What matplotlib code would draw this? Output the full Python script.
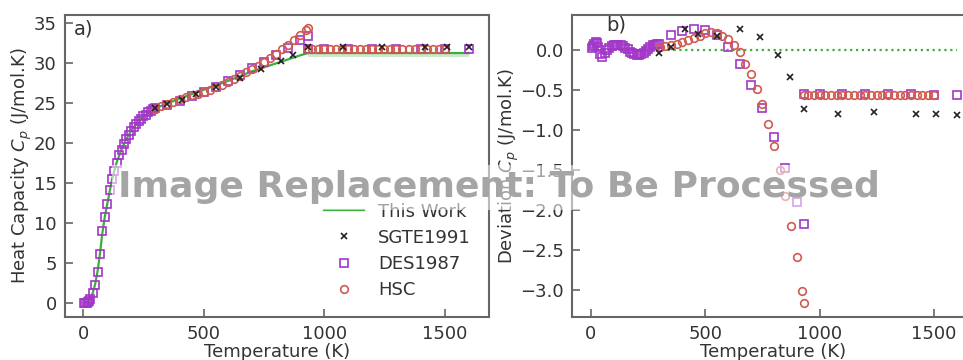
import matplotlib
matplotlib.use('Agg')
import matplotlib.pyplot as plt

# --- panel a) heat capacity ---
line_T = [10, 20, 30, 40, 50, 60, 70, 80, 90, 100, 120, 140, 160, 180, 200, 225, 250, 275,
          300, 400, 500, 600, 700, 800, 900, 933, 1600]
line_cp = [0.05, 0.2, 0.6, 1.3, 2.4, 4.0, 6.2, 8.8, 10.8, 12.4, 15.5, 17.7, 19.3, 20.6, 21.6,
           22.6, 23.4, 23.9, 24.4, 25.6, 26.7, 27.8, 29.0, 30.0, 31.0, 31.3, 31.3]
band_T = [933, 1600]
band_lo = [30.75, 30.75]
band_hi = [31.45, 31.45]

sgte_T = [298, 350, 410, 470, 550, 650, 740, 820, 870, 933, 1080, 1240, 1420, 1510, 1600]
sgte_cp = [24.44, 24.96, 25.43, 26.15, 27.02, 28.14, 29.24, 30.26, 31.04, 32.04,
           32.1, 32.1, 32.1, 32.1, 32.1]
sgte_dev = [-0.04, 0.04, 0.27, 0.2, 0.18, 0.26, 0.16, -0.06, -0.34, -0.74,
            -0.8, -0.78, -0.8, -0.8, -0.81]

des_T = [5, 10, 15, 20, 25, 30, 40, 50, 60, 70, 80, 90, 100, 110, 120, 130, 140, 150, 160,
         170, 180, 190, 200, 210, 220, 230, 240, 250, 260, 270, 280, 290, 298,
         350, 400, 450, 500, 550, 600, 650, 700, 750, 800, 850, 900, 933,
         933, 1000, 1100, 1200, 1300, 1400, 1500, 1600]
des_cp = [0.0, 0.05, 0.1, 0.2, 0.35, 0.6, 1.3, 2.3, 3.9, 6.2, 9.0, 10.8, 12.4, 14.2, 15.6,
          16.6, 17.6, 18.5, 19.2, 19.9, 20.6, 21.1, 21.6, 22.0, 22.4, 22.8, 23.1, 23.4, 23.6,
          23.9, 24.1, 24.3, 24.4,
          24.81, 25.36, 25.89, 26.45, 27.01, 27.76, 28.57, 29.43, 30.23, 31.09, 31.98, 32.9, 33.47,
          31.85, 31.85, 31.85, 31.85, 31.85, 31.85, 31.85, 31.85]
des_dev = [0.03, 0.05, 0.08, 0.10, 0.09, 0.04, -0.05, -0.08, -0.04, 0.0, 0.03, 0.05, 0.06,
           0.07, 0.07, 0.06, 0.05, 0.03, 0.01, -0.02, -0.04, -0.05, -0.06, -0.06, -0.05, -0.03,
           -0.01, 0.02, 0.04, 0.06, 0.07, 0.08, 0.08,
           0.19, 0.24, 0.26, 0.25, 0.19, 0.04, -0.17, -0.43, -0.73, -1.09, -1.48, -1.9, -2.17,
           -0.55, -0.55, -0.55, -0.55, -0.55, -0.55, -0.56, -0.56]

hsc_T = [300, 325, 350, 375, 400, 425, 450, 475, 500, 525, 550, 575, 600, 625, 650, 675,
         700, 725, 750, 775, 800, 825, 850, 875, 900, 925, 933,
         933, 950, 975, 1000, 1025, 1050, 1075, 1100, 1125, 1150, 1175, 1200, 1225, 1250,
         1275, 1300, 1325, 1350, 1375, 1400, 1425, 1450, 1475, 1500]
hsc_cp = [24.36, 24.65, 24.94, 25.22, 25.5, 25.77, 26.0, 26.22, 26.48, 26.72, 26.99, 27.32,
          27.66, 28.03, 28.42, 28.87, 29.3, 29.73, 30.18, 30.68, 31.2, 31.75, 32.33, 32.95,
          33.59, 34.23, 34.47,
          31.85, 31.85, 31.85, 31.85, 31.85, 31.85, 31.85, 31.85, 31.85, 31.85, 31.85, 31.85,
          31.85, 31.85, 31.85, 31.85, 31.85, 31.85, 31.85, 31.85, 31.85, 31.85, 31.85, 31.85]
hsc_dev = [0.04, 0.05, 0.06, 0.08, 0.10, 0.13, 0.15, 0.18, 0.22, 0.23, 0.21, 0.18, 0.14,
           0.07, -0.02, -0.17, -0.30, -0.48, -0.68, -0.93, -1.2, -1.5, -1.83, -2.2, -2.59,
           -3.01, -3.17,
           -0.56, -0.56, -0.56, -0.56, -0.56, -0.56, -0.56, -0.56, -0.56, -0.56, -0.56, -0.56,
           -0.56, -0.56, -0.56, -0.56, -0.56, -0.56, -0.56, -0.56, -0.56, -0.56, -0.56, -0.56]

zero_T = [0, 1600]
zero_dev = [0, 0]

GREEN = '#3cae3a'
PURPLE = '#a236c8'
RED = '#cf5a50'
TXT = '#333333'
SPINE = '#666666'

plt.rcParams['font.size'] = 13
plt.rcParams['axes.unicode_minus'] = True

fig = plt.figure(figsize=(9.63, 3.6), dpi=100)
ax1 = fig.add_axes([0.0675, 0.1194, 0.4403, 0.8389])
ax2 = fig.add_axes([0.594, 0.1194, 0.4185, 0.8389])

ax1.fill_between(band_T, band_lo, band_hi, color=GREEN, alpha=0.25, lw=0)
ax1.plot(line_T, line_cp, color=GREEN, lw=1.6, label='This Work', zorder=2)
ax1.plot(sgte_T, sgte_cp, 'x', color='#222222', ms=5, mew=1.2, label='SGTE1991', zorder=4)
ax1.plot(des_T, des_cp, 's', mfc='none', mec=PURPLE, ms=5.5, mew=1.2, label='DES1987', zorder=3)
ax1.plot(hsc_T, hsc_cp, 'o', mfc='none', mec=RED, ms=5.5, mew=1.2, label='HSC', zorder=3)

ax2.plot(zero_T, zero_dev, ':', color=GREEN, lw=1.6, zorder=2)
ax2.plot(sgte_T, sgte_dev, 'x', color='#222222', ms=5, mew=1.2, zorder=4)
ax2.plot(des_T, des_dev, 's', mfc='none', mec=PURPLE, ms=5.5, mew=1.2, zorder=3)
ax2.plot(hsc_T, hsc_dev, 'o', mfc='none', mec=RED, ms=5.5, mew=1.2, zorder=3)

ax1.set_xlim(-75, 1684)
ax1.set_ylim(-1.7, 36.05)
ax2.set_xlim(-83, 1680)
ax2.set_ylim(-3.34, 0.44)
ax1.set_xticks([0, 500, 1000, 1500])
ax1.set_yticks([0, 5, 10, 15, 20, 25, 30, 35])
ax2.set_xticks([0, 500, 1000, 1500])
ax2.set_yticks([0.0, -0.5, -1.0, -1.5, -2.0, -2.5, -3.0])

for ax in (ax1, ax2):
    for sp in ax.spines.values():
        sp.set_color(SPINE)
        sp.set_linewidth(1.5)
    ax.tick_params(direction='in', length=6, width=1.2, color=SPINE, labelcolor=TXT, pad=6)
    ax.set_xlabel('Temperature (K)', color=TXT, labelpad=0)

ax1.set_ylabel('Heat Capacity $C_p$ (J/mol.K)', color=TXT, labelpad=0)
ax2.set_ylabel('Deviation $C_p$ (J/mol.K)', color=TXT, labelpad=-1)

ax1.text(0.02, 0.985, 'a)', transform=ax1.transAxes, va='top', ha='left', fontsize=14, color=TXT)
ax2.text(0.085, 1.0, 'b)', transform=ax2.transAxes, va='top', ha='left', fontsize=14, color=TXT)

ax1.legend(loc='lower right', frameon=False, numpoints=1, handlelength=2.2,
           labelspacing=0.45, borderaxespad=0.6, labelcolor=TXT)

# overlay banner present in the reference image
fig.text(0.518, 0.48, 'Image Replacement: To Be Processed', ha='center', va='center',
         fontsize=26, fontweight='bold', color='#a5a5a5',
         bbox=dict(facecolor='white', alpha=0.55, edgecolor='none', pad=4))

fig.savefig('out.png', dpi=100)
